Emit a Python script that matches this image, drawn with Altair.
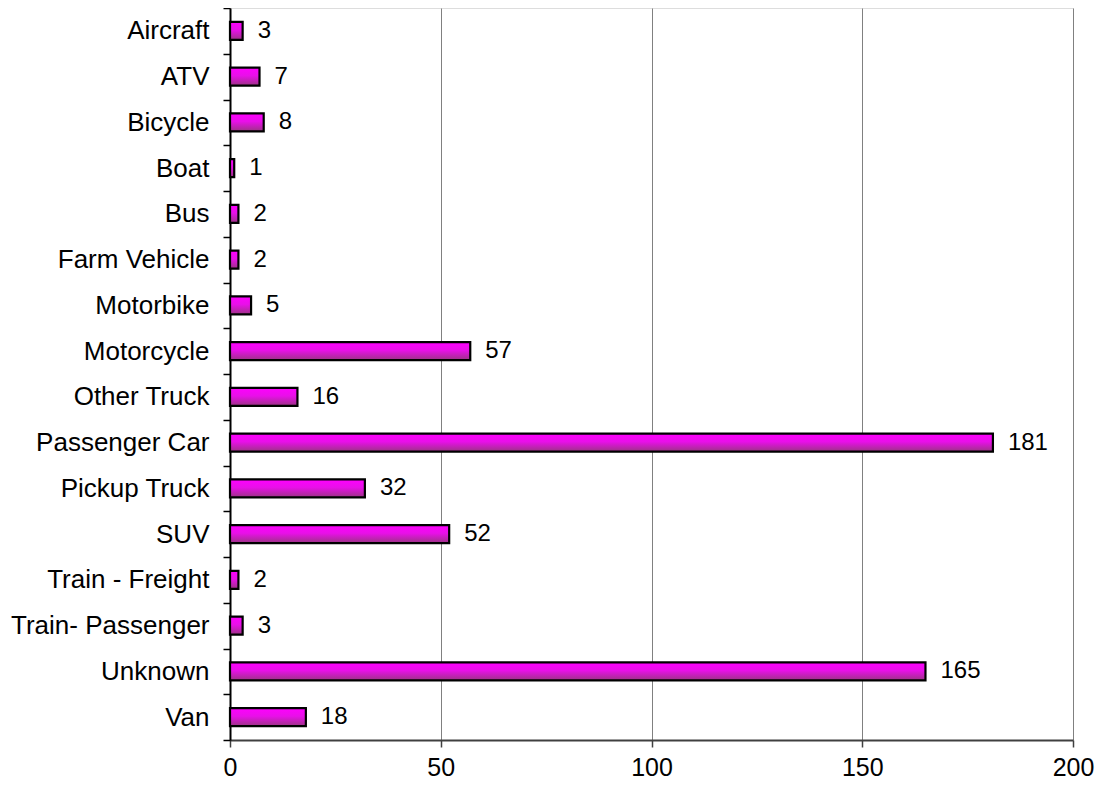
import altair as alt
import pandas as pd

categories = ["Aircraft", "ATV", "Bicycle", "Boat", "Bus", "Farm Vehicle", "Motorbike",
              "Motorcycle", "Other Truck", "Passenger Car", "Pickup Truck", "SUV",
              "Train - Freight", "Train- Passenger", "Unknown", "Van"]
values = [3, 7, 8, 1, 2, 2, 5, 57, 16, 181, 32, 52, 2, 3, 165, 18]
x_ticks = [0, 50, 100, 150, 200]

df = pd.DataFrame({"cat": categories, "val": values})

FONT = "Liberation Sans"

grad = alt.Gradient(
    gradient="linear",
    x1=0, y1=0, x2=0, y2=1,
    stops=[
        alt.GradientStop(color="#FF00FF", offset=0),
        alt.GradientStop(color="#E810E8", offset=0.45),
        alt.GradientStop(color="#9C3385", offset=1),
    ],
)

y_enc = alt.Y(
    "cat:N", sort=categories, title=None,
    scale=alt.Scale(paddingInner=0, paddingOuter=0),
    axis=alt.Axis(
        labelFont=FONT, labelFontSize=26, labelColor="black", labelPadding=14,
        labelLimit=0,
        tickBand="extent", tickSize=7, tickColor="black", tickWidth=1.5,
        domainColor="black", domainWidth=2, grid=False,
    ),
)
x_enc = alt.X(
    "val:Q", title=None,
    scale=alt.Scale(domain=[0, 200], nice=False),
    axis=alt.Axis(
        values=x_ticks, labelFont=FONT, labelFontSize=25, labelColor="black",
        labelPadding=8, labelFlush=False, tickSize=7, tickColor="#404040", tickWidth=1.5,
        domainColor="#404040", domainWidth=2,
        grid=True, gridColor="#808080", gridWidth=1,
    ),
)

bars = alt.Chart(df).mark_bar(size=18, color=grad, stroke="black", strokeWidth=2.2).encode(
    x=x_enc, y=y_enc
)
labels = alt.Chart(df).mark_text(
    align="left", baseline="middle", dx=15, font=FONT, fontSize=24, color="black"
).encode(x="val:Q", y=alt.Y("cat:N", sort=categories), text="val:Q")

chart = (bars + labels).properties(
    width=843, height=732,
    autosize=alt.AutoSizeParams(type="none"),
    padding={"left": 222, "top": 0, "right": 22, "bottom": 44},
).configure_view(stroke="#808080", strokeWidth=2).configure(background="white")

chart.save("out.html", embed_options={"renderer": "svg", "actions": False})
